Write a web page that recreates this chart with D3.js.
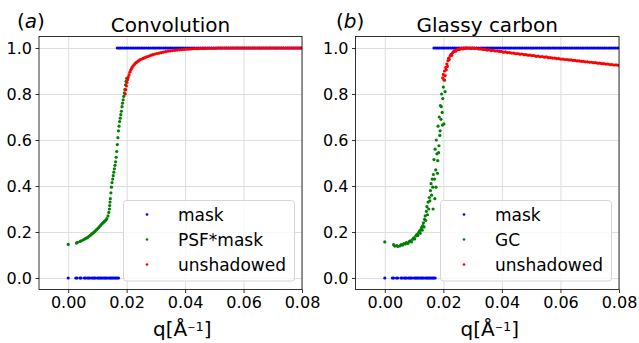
<!DOCTYPE html>
<html>
<head>
<meta charset="utf-8">
<script src="https://cdn.jsdelivr.net/npm/d3@7"></script>
<style>
  html, body { margin: 0; padding: 0; background: #fff; }
  svg { display: block; font-family: "DejaVu Sans", sans-serif; }
</style>
</head>
<body>
<svg id="chart" width="639" height="343"></svg>
<script>
// ---- tick labels ----
const xTicks = [0.00, 0.02, 0.04, 0.06, 0.08];
const yTicks = [0.0, 0.2, 0.4, 0.6, 0.8, 1.0];

// ---- detector mask (same in both panels): 0 below the edge, 1 above ----
const maskLowQ = [0, 0.0026, 0.0030, 0.0040, 0.0044, 0.0055, 0.0059, 0.0066, 0.0070, 0.0074,
  0.0081, 0.0085, 0.0089, 0.0093, 0.0100, 0.0104, 0.0108, 0.0112, 0.0116, 0.0121, 0.0125,
  0.0129, 0.0133, 0.0139, 0.0143, 0.0147, 0.0151, 0.0155, 0.0160, 0.0164, 0.0168, 0.0172];
const maskHighQ = [0.0168, 0.0174, 0.0180, 0.0186, 0.0193, 0.0199, 0.0205, 0.0212, 0.0218,
  0.0224, 0.0231, 0.0237, 0.0243, 0.0250, 0.0256, 0.0262, 0.0269, 0.0275, 0.0281, 0.0288,
  0.0294, 0.0300, 0.0307, 0.0313, 0.0319, 0.0326, 0.0332, 0.0338, 0.0345, 0.0351, 0.0357,
  0.0364, 0.0370, 0.0376, 0.0383, 0.0389, 0.0395, 0.0402, 0.0408, 0.0414, 0.0421, 0.0427,
  0.0433, 0.0440, 0.0446, 0.0452, 0.0459, 0.0465, 0.0471, 0.0478, 0.0484, 0.0490, 0.0497,
  0.0503, 0.0509, 0.0516, 0.0522, 0.0528, 0.0535, 0.0541, 0.0547, 0.0554, 0.0560, 0.0566,
  0.0573, 0.0579, 0.0585, 0.0592, 0.0598, 0.0604, 0.0611, 0.0617, 0.0623, 0.0630, 0.0636,
  0.0642, 0.0649, 0.0655, 0.0661, 0.0668, 0.0674, 0.0680, 0.0687, 0.0693, 0.0699, 0.0706,
  0.0712, 0.0718, 0.0725, 0.0731, 0.0737, 0.0744, 0.0750, 0.0756, 0.0763, 0.0769, 0.0775,
  0.0782, 0.0788, 0.0794, 0.0800];

// ---- (a) Convolution: PSF*mask ----
const psfQ = [0, 0.0028, 0.0032, 0.0041, 0.0045, 0.0052, 0.0057, 0.0062, 0.0066, 0.0071,
  0.0076, 0.0080, 0.0084, 0.0088, 0.0092, 0.0096, 0.0100, 0.0104, 0.0108, 0.0112, 0.0116,
  0.0120, 0.0123, 0.0126, 0.0129, 0.0132, 0.0136, 0.0139, 0.0141, 0.0142, 0.0143, 0.0144,
  0.0146, 0.0148, 0.0150, 0.0152, 0.0154, 0.0156, 0.0158, 0.0160, 0.0162, 0.0164, 0.0166,
  0.0168, 0.0170, 0.0172, 0.0174, 0.0176, 0.0178, 0.0180, 0.0182, 0.0184, 0.0186, 0.0188,
  0.0190, 0.0192, 0.0194, 0.0196, 0.0198, 0.0200];
const psfV = [0.146, 0.152, 0.155, 0.159, 0.162, 0.166, 0.170, 0.173, 0.176, 0.181,
  0.186, 0.191, 0.195, 0.199, 0.204, 0.209, 0.214, 0.219, 0.225, 0.231, 0.236,
  0.241, 0.245, 0.249, 0.252, 0.258, 0.270, 0.285, 0.300, 0.315, 0.330, 0.345,
  0.370, 0.395, 0.415, 0.430, 0.445, 0.460, 0.475, 0.490, 0.505, 0.525, 0.550,
  0.580, 0.610, 0.640, 0.660, 0.680, 0.695, 0.710, 0.725, 0.745, 0.760, 0.775,
  0.790, 0.805, 0.820, 0.840, 0.855, 0.868];

// ---- (a) Convolution: unshadowed ----
const convQ = [0.0195, 0.0197, 0.0199, 0.0201, 0.0203, 0.0205, 0.0208, 0.0211, 0.0214, 0.0217,
  0.0220, 0.0224, 0.0228, 0.0232, 0.0236, 0.0240, 0.0245, 0.0250, 0.0255, 0.0260, 0.0266,
  0.0272, 0.0278, 0.0284, 0.0290, 0.0297, 0.0304, 0.0311, 0.0318, 0.0325, 0.0333, 0.0341,
  0.0349, 0.0357, 0.0365, 0.0373, 0.0381, 0.0389, 0.0397, 0.0405, 0.0413, 0.0421, 0.0429,
  0.0437, 0.0445, 0.0452, 0.0460, 0.0468, 0.0476, 0.0484, 0.0492, 0.0499, 0.0506, 0.0513,
  0.0520, 0.0527, 0.0534, 0.0541, 0.0548, 0.0555, 0.0562, 0.0569, 0.0576, 0.0583, 0.0590,
  0.0597, 0.0604, 0.0611, 0.0618, 0.0625, 0.0632, 0.0639, 0.0646, 0.0653, 0.0660, 0.0667,
  0.0674, 0.0681, 0.0688, 0.0695, 0.0702, 0.0709, 0.0716, 0.0723, 0.0730, 0.0737, 0.0744,
  0.0751, 0.0758, 0.0765, 0.0772, 0.0779, 0.0786, 0.0793, 0.0800];
const convV = [0.800, 0.818, 0.835, 0.850, 0.862, 0.872, 0.883, 0.895, 0.904, 0.911,
  0.918, 0.925, 0.931, 0.936, 0.940, 0.944, 0.948, 0.951, 0.954, 0.957, 0.960,
  0.963, 0.966, 0.969, 0.971, 0.974, 0.976, 0.978, 0.980, 0.982, 0.984, 0.986,
  0.987, 0.989, 0.990, 0.991, 0.992, 0.993, 0.994, 0.995, 0.995, 0.996, 0.997,
  0.997, 0.997, 0.998, 0.998, 0.998, 0.999, 0.999, 0.999, 0.999, 0.999, 1.000,
  1.000, 1.000, 1.000, 1.000, 1.000, 1.000, 1.000, 1.000, 1.000, 1.000, 1.000,
  1.000, 1.000, 1.000, 1.000, 1.000, 1.000, 1.000, 1.000, 1.000, 1.000, 1.000,
  1.000, 1.000, 1.000, 1.000, 1.000, 1.000, 1.000, 1.000, 1.000, 1.000, 1.000,
  1.000, 1.000, 1.000, 1.000, 1.000, 1.000, 1.000, 1.000];

// ---- (b) Glassy carbon: GC (shadowed part) ----
const gcQ = [0, 0.0030, 0.0034, 0.0041, 0.0045, 0.0052, 0.0056, 0.0061, 0.0065, 0.0070,
  0.0074, 0.0079, 0.0083, 0.0087, 0.0091, 0.0095, 0.0099, 0.0102, 0.0106, 0.0110, 0.0113,
  0.0116, 0.0119, 0.0121, 0.0124, 0.0126, 0.0128, 0.0130, 0.0132, 0.0134, 0.0136, 0.0138,
  0.0140, 0.0142, 0.0144, 0.0146, 0.0148, 0.0150, 0.0152, 0.0154, 0.0156, 0.0158, 0.0160,
  0.0162, 0.0164, 0.0166, 0.0168, 0.0170, 0.0172, 0.0174, 0.0176, 0.0178, 0.0180, 0.0182,
  0.0184, 0.0186, 0.0188, 0.0190, 0.0192, 0.0194, 0.0196, 0.0198, 0.0200, 0.0202, 0.0204,
  0.0206, 0.0165, 0.0171, 0.0175, 0.0181, 0.0185, 0.0189, 0.0193, 0.0197];
const gcV = [0.157, 0.145, 0.139, 0.141, 0.137, 0.140, 0.145, 0.143, 0.150, 0.148,
  0.154, 0.150, 0.158, 0.162, 0.157, 0.168, 0.175, 0.170, 0.183, 0.190, 0.185,
  0.198, 0.205, 0.195, 0.212, 0.220, 0.208, 0.228, 0.240, 0.222, 0.255, 0.270,
  0.250, 0.290, 0.310, 0.275, 0.330, 0.300, 0.350, 0.335, 0.380, 0.410, 0.360,
  0.430, 0.395, 0.450, 0.515, 0.430, 0.560, 0.470, 0.600, 0.540, 0.455, 0.660,
  0.545, 0.700, 0.620, 0.750, 0.690, 0.800, 0.720, 0.780, 0.830, 0.670, 0.860,
  0.810, 0.300, 0.345, 0.395, 0.510, 0.575, 0.640, 0.745, 0.665];

// ---- (b) Glassy carbon: unshadowed ----
const gcRedQ = [0.0198, 0.0200, 0.0202, 0.0204, 0.0206, 0.0208, 0.0210, 0.0212, 0.0214, 0.0216,
  0.0218, 0.0220, 0.0223, 0.0226, 0.0229, 0.0232, 0.0235, 0.0238, 0.0242, 0.0246, 0.0250,
  0.0254, 0.0258, 0.0262, 0.0266, 0.0270, 0.0275, 0.0280, 0.0285, 0.0290, 0.0295, 0.0300,
  0.0307, 0.0314, 0.0321, 0.0328, 0.0335, 0.0342, 0.0349, 0.0356, 0.0363, 0.0370, 0.0377,
  0.0384, 0.0391, 0.0398, 0.0405, 0.0412, 0.0419, 0.0426, 0.0433, 0.0440, 0.0447, 0.0454,
  0.0461, 0.0468, 0.0475, 0.0482, 0.0489, 0.0496, 0.0503, 0.0510, 0.0517, 0.0524, 0.0531,
  0.0538, 0.0545, 0.0552, 0.0559, 0.0566, 0.0573, 0.0580, 0.0587, 0.0594, 0.0601, 0.0608,
  0.0615, 0.0622, 0.0629, 0.0636, 0.0643, 0.0650, 0.0657, 0.0664, 0.0671, 0.0678, 0.0685,
  0.0692, 0.0699, 0.0706, 0.0713, 0.0720, 0.0727, 0.0734, 0.0741, 0.0748, 0.0755, 0.0762,
  0.0769, 0.0776, 0.0783, 0.0790, 0.0797];
const gcRedV = [0.870, 0.885, 0.862, 0.900, 0.880, 0.915, 0.905, 0.930, 0.920, 0.945,
  0.955, 0.950, 0.965, 0.972, 0.968, 0.980, 0.984, 0.988, 0.986, 0.992, 0.995,
  0.993, 0.997, 0.999, 0.996, 1.000, 0.998, 1.001, 0.999, 1.000, 0.998, 1.000,
  0.998, 0.999, 0.996, 0.996, 0.994, 0.994, 0.991, 0.992, 0.989, 0.990, 0.987,
  0.987, 0.985, 0.985, 0.982, 0.983, 0.980, 0.980, 0.978, 0.978, 0.975, 0.976,
  0.973, 0.974, 0.971, 0.971, 0.969, 0.969, 0.967, 0.967, 0.964, 0.965, 0.962,
  0.963, 0.960, 0.961, 0.958, 0.958, 0.956, 0.956, 0.954, 0.954, 0.952, 0.952,
  0.950, 0.950, 0.948, 0.948, 0.946, 0.946, 0.944, 0.944, 0.942, 0.942, 0.940,
  0.940, 0.938, 0.938, 0.936, 0.936, 0.934, 0.934, 0.932, 0.932, 0.930, 0.930,
  0.928, 0.928, 0.926, 0.927, 0.925];

const colors = { mask: "#0000ff", mid: "#008000", red: "#ff0000" };
const dotR = 1.6;

const svg = d3.select("#chart");

function pairs(qs, vs) { return qs.map((q, i) => [q, vs[i]]); }

function drawPanel(opt) {
  const left = opt.left, right = opt.right, top = 36.5, bottom = 289.5;
  const x = d3.scaleLinear().domain([-0.01, 0.08]).range([left, right]);
  const y = d3.scaleLinear().domain([-0.05, 1.05]).range([bottom, top]);
  const g = svg.append("g");

  // grid
  g.append("g").attr("transform", `translate(0,${bottom})`)
    .call(d3.axisBottom(x).tickValues(xTicks).tickSize(-(bottom - top)).tickFormat(""))
    .call(s => s.select(".domain").remove())
    .call(s => s.selectAll("line").attr("stroke", "#dedede").attr("stroke-width", 1));
  g.append("g").attr("transform", `translate(${left},0)`)
    .call(d3.axisLeft(y).tickValues(yTicks).tickSize(-(right - left)).tickFormat(""))
    .call(s => s.select(".domain").remove())
    .call(s => s.selectAll("line").attr("stroke", "#dedede").attr("stroke-width", 1));

  // scatter series
  const series = [
    { data: maskLowQ.map(q => [q, 0]), c: colors.mask },
    { data: maskHighQ.map(q => [q, 1]), c: colors.mask },
    { data: opt.mid, c: colors.mid },
    { data: opt.red, c: colors.red }
  ];
  const clip = "clip" + opt.id;
  svg.append("clipPath").attr("id", clip).append("rect")
    .attr("x", left).attr("y", top).attr("width", right - left).attr("height", bottom - top);
  const pts = g.append("g").attr("clip-path", `url(#${clip})`);
  series.forEach(s => {
    pts.append("g").selectAll("circle").data(s.data).join("circle")
      .attr("cx", d => x(d[0])).attr("cy", d => y(d[1])).attr("r", dotR).attr("fill", s.c);
  });

  // axes
  const ax = g.append("g").attr("transform", `translate(0,${bottom})`)
    .call(d3.axisBottom(x).tickValues(xTicks).tickFormat(d3.format(".2f")).tickSize(3.5).tickPadding(3.5));
  const ay = g.append("g").attr("transform", `translate(${left},0)`)
    .call(d3.axisLeft(y).tickValues(yTicks).tickFormat(d3.format(".1f")).tickSize(3.5).tickPadding(3.5));
  [ax, ay].forEach(a => {
    a.select(".domain").remove();
    a.selectAll("line").attr("stroke", "#000").attr("stroke-width", 0.8);
    a.selectAll("text").attr("font-size", 16).attr("fill", "#000")
      .attr("font-family", "DejaVu Sans");
  });

  // frame
  g.append("rect").attr("x", left).attr("y", top).attr("width", right - left)
    .attr("height", bottom - top).attr("fill", "none").attr("stroke", "#000").attr("stroke-width", 0.8);

  // title and panel tag
  g.append("text").attr("x", (left + right) / 2).attr("y", 31.5).attr("text-anchor", "middle")
    .attr("font-size", 20).text(opt.title);
  const tag = g.append("text").attr("x", opt.tagX).attr("y", 27.5).attr("font-size", 20);
  tag.append("tspan").text("(");
  tag.append("tspan").attr("font-style", "italic").text(opt.tag);
  tag.append("tspan").text(")");

  // x label: q [Å^-1], superscript set in the running text flow
  const xl = g.append("text").attr("x", opt.labelX).attr("y", 336).attr("font-size", 20);
  xl.append("tspan").text("q[Å");
  xl.append("tspan").attr("dy", -5).attr("font-size", 10).text("−");
  xl.append("tspan").attr("font-size", 13).text("1");
  xl.append("tspan").attr("dy", 5).text("]");

  // legend
  const lx = opt.legendX, ly = 200.5, lw = 171, lh = 80.5;
  const lg = g.append("g");
  lg.append("rect").attr("x", lx).attr("y", ly).attr("width", lw).attr("height", lh)
    .attr("rx", 3).attr("fill", "#fff").attr("fill-opacity", 0.8)
    .attr("stroke", "#d5d5d5").attr("stroke-width", 1);
  opt.legend.forEach((name, i) => {
    const cy = ly + 14 + i * 25;
    lg.append("circle").attr("cx", lx + 23.5).attr("cy", cy).attr("r", 1.35)
      .attr("fill", [colors.mask, colors.mid, colors.red][i]);
    lg.append("text").attr("x", lx + 54.5).attr("y", cy).attr("dy", "0.36em")
      .attr("font-size", 17).text(name);
  });
}

drawPanel({
  id: "a", left: 39, right: 302, title: "Convolution", tag: "a", tagX: 17, legendX: 123.5,
  labelX: 153, mid: pairs(psfQ, psfV), red: pairs(convQ, convV),
  legend: ["mask", "PSF*mask", "unshadowed"]
});
drawPanel({
  id: "b", left: 355.5, right: 619, title: "Glassy carbon", tag: "b", tagX: 336, legendX: 440.5,
  labelX: 460.5, mid: pairs(gcQ, gcV), red: pairs(gcRedQ, gcRedV),
  legend: ["mask", "GC", "unshadowed"]
});
</script>
</body>
</html>
